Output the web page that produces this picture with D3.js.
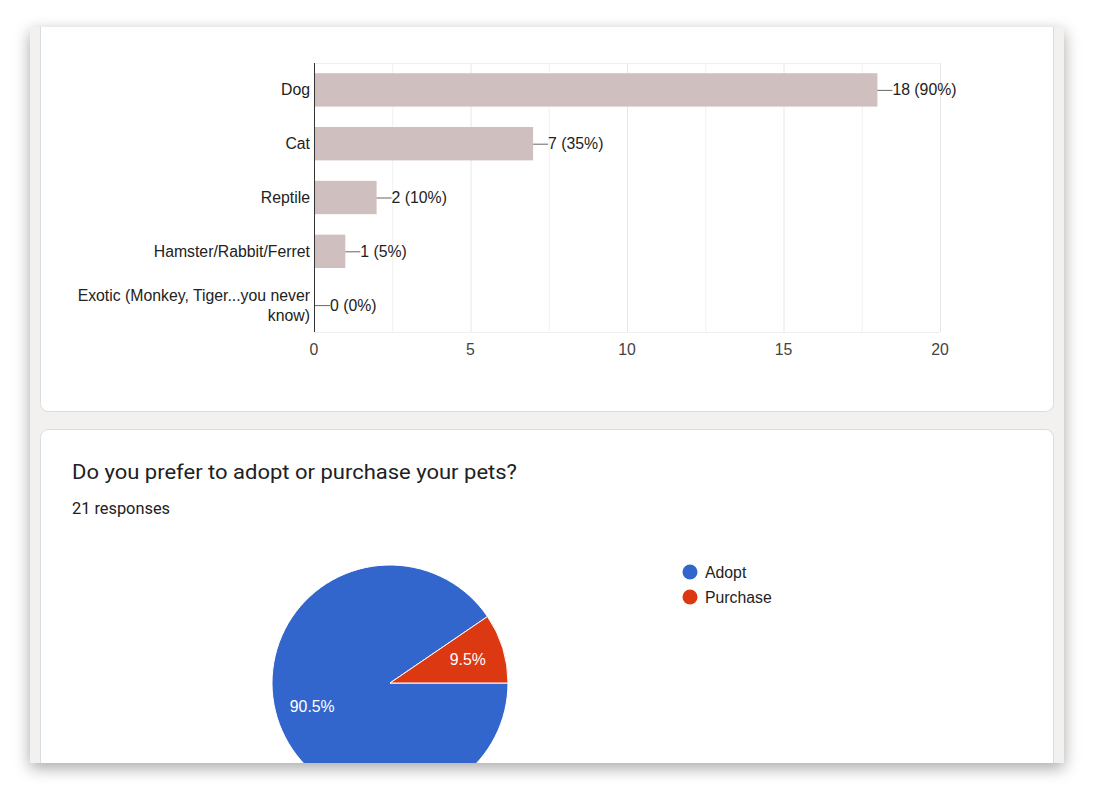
<!DOCTYPE html>
<html>
<head>
<meta charset="utf-8">
<script src="https://cdn.jsdelivr.net/npm/d3@7"></script>
<style>
  html, body { margin: 0; padding: 0; background: #ffffff; }
  svg { display: block; }
</style>
</head>
<body>
<svg id="chart" width="1095" height="796"></svg>
<script>
// ---- data ----
const categories = ["Dog", "Cat", "Reptile", "Hamster/Rabbit/Ferret", "Exotic (Monkey, Tiger...you never know)"];
const counts = [18, 7, 2, 1, 0];
const percentLabels = ["90%", "35%", "10%", "5%", "0%"];
const xTicks = [0, 5, 10, 15, 20];
const gridValues = [2.5, 5, 7.5, 10, 12.5, 15, 17.5, 20];

const pieTitle = "Do you prefer to adopt or purchase your pets?";
const pieResponses = "21 responses";
const pieCategories = ["Adopt", "Purchase"];
const pieValues = [19, 2];
const pieColors = ["#3366cc", "#dc3912"];

// ---- page / window ----
const svg = d3.select("#chart");
const defs = svg.append("defs");
const f = defs.append("filter").attr("id", "shadow").attr("x", "-10%").attr("y", "-10%").attr("width", "120%").attr("height", "120%");
f.append("feDropShadow").attr("dx", 0).attr("dy", 5).attr("stdDeviation", 8).attr("flood-color", "#000").attr("flood-opacity", 0.35);
defs.append("clipPath").attr("id", "win").append("rect").attr("x", 30).attr("y", 27).attr("width", 1034).attr("height", 736);

svg.append("rect").attr("x", 30).attr("y", 27).attr("width", 1034).attr("height", 736)
  .attr("fill", "#f2f1f0").attr("filter", "url(#shadow)");

const win = svg.append("g").attr("clip-path", "url(#win)");

// cards
win.append("rect").attr("x", 40.5).attr("y", -30).attr("width", 1013).attr("height", 441.5)
  .attr("rx", 8).attr("fill", "#fff").attr("stroke", "#dadce0");
win.append("rect").attr("x", 40.5).attr("y", 429.5).attr("width", 1013).attr("height", 500)
  .attr("rx", 8).attr("fill", "#fff").attr("stroke", "#dadce0");

// ---- bar chart ----
const FONT = "Arial, 'Liberation Sans', sans-serif";
const FS = 15.8;
const x = d3.scaleLinear().domain([0, 20]).range([314, 940]);
const y = d3.scaleBand().domain(categories).range([63, 332]).paddingInner(0.38).paddingOuter(0.19);

const bar = win.append("g");
// grid
bar.selectAll("line.grid").data(gridValues).join("line")
  .attr("x1", d => x(d) + 0.5).attr("x2", d => x(d) + 0.5)
  .attr("y1", 63).attr("y2", 332)
  .attr("stroke", d => d % 5 === 0 ? "#e6e6e6" : "#efefef");
bar.append("line").attr("x1", 314).attr("x2", 940).attr("y1", 63.5).attr("y2", 63.5).attr("stroke", "#efefef");
bar.append("line").attr("x1", 314).attr("x2", 940).attr("y1", 332.5).attr("y2", 332.5).attr("stroke", "#efefef");

// bars
bar.selectAll("rect.bar").data(categories).join("rect")
  .attr("x", x(0)).attr("y", d => y(d))
  .attr("width", (d, i) => x(counts[i]) - x(0))
  .attr("height", y.bandwidth())
  .attr("fill", "#cfbfbf");

// axis line
bar.append("line").attr("x1", 314.5).attr("x2", 314.5).attr("y1", 63).attr("y2", 332)
  .attr("stroke", "#333").attr("stroke-width", 1);

// value labels with leaders
categories.forEach((c, i) => {
  const cy = y(c) + y.bandwidth() / 2;
  const xe = x(counts[i]) + (counts[i] === 0 ? 1 : 0);
  bar.append("line").attr("x1", xe).attr("x2", xe + 15).attr("y1", cy + 0.5).attr("y2", cy + 0.5)
    .attr("stroke", "#666");
  bar.append("text").attr("x", xe + 15).attr("y", cy + 5.5)
    .attr("font-family", FONT).attr("font-size", FS).attr("fill", "#222")
    .text(counts[i] + " (" + percentLabels[i] + ")");
});

// category labels (wrapped)
categories.forEach(c => {
  const cy = y(c) + y.bandwidth() / 2;
  const t = bar.append("text").attr("text-anchor", "end")
    .attr("font-family", FONT).attr("font-size", FS).attr("fill", "#222");
  const words = c.split(" ");
  let lines = [], cur = [];
  const probe = bar.append("text").attr("font-family", FONT).attr("font-size", FS);
  words.forEach(w => {
    const test = cur.concat([w]).join(" ");
    probe.text(test);
    if (probe.node().getComputedTextLength() > 245 && cur.length) { lines.push(cur.join(" ")); cur = [w]; }
    else cur.push(w);
  });
  lines.push(cur.join(" "));
  probe.remove();
  const lh = 20;
  const y0 = cy + 5.5 - (lines.length - 1) * lh / 2;
  lines.forEach((l, k) => t.append("tspan").attr("x", 310).attr("y", y0 + k * lh).text(l));
});

// x tick labels
bar.selectAll("text.tick").data(xTicks).join("text")
  .attr("x", d => x(d)).attr("y", 355).attr("text-anchor", "middle")
  .attr("font-family", FONT).attr("font-size", FS).attr("fill", "#444")
  .text(d => d);

// ---- pie card ----
win.append("text").attr("x", 72).attr("y", 479)
  .attr("font-family", "Roboto, 'Open Sans', sans-serif").attr("font-size", 20).attr("fill", "#202124")
  .attr("textLength", 445).attr("lengthAdjust", "spacingAndGlyphs")
  .text(pieTitle);
win.append("text").attr("x", 72).attr("y", 514)
  .attr("font-family", "Roboto, sans-serif").attr("font-size", 16).attr("fill", "#202124")
  .attr("textLength", 98).attr("lengthAdjust", "spacingAndGlyphs")
  .text(pieResponses);

const total = d3.sum(pieValues);
const pie = d3.pie().sort(null).startAngle(Math.PI / 2).endAngle(Math.PI / 2 + 2 * Math.PI);
const arcs = pie(pieValues);
const R = 118;
const arc = d3.arc().innerRadius(0).outerRadius(R);
const labelArc = d3.arc().innerRadius(R * 0.69).outerRadius(R * 0.69);
const pg = win.append("g").attr("transform", "translate(390,683)");
pg.selectAll("path").data(arcs).join("path")
  .attr("d", arc).attr("fill", (d, i) => pieColors[i])
  .attr("stroke", "#fff").attr("stroke-width", 1);
pg.selectAll("text").data(arcs).join("text")
  .attr("transform", d => "translate(" + labelArc.centroid(d) + ")")
  .attr("text-anchor", "middle").attr("dy", 5.5)
  .attr("font-family", FONT).attr("font-size", FS).attr("fill", "#fff")
  .text(d => (d.value / total * 100).toFixed(1) + "%");

// legend
const lg = win.append("g");
pieCategories.forEach((c, i) => {
  lg.append("circle").attr("cx", 690).attr("cy", 572 + i * 25).attr("r", 7.5).attr("fill", pieColors[i]);
  lg.append("text").attr("x", 705).attr("y", 577.5 + i * 25)
    .attr("font-family", FONT).attr("font-size", FS).attr("fill", "#222").text(c);
});
</script>
</body>
</html>
